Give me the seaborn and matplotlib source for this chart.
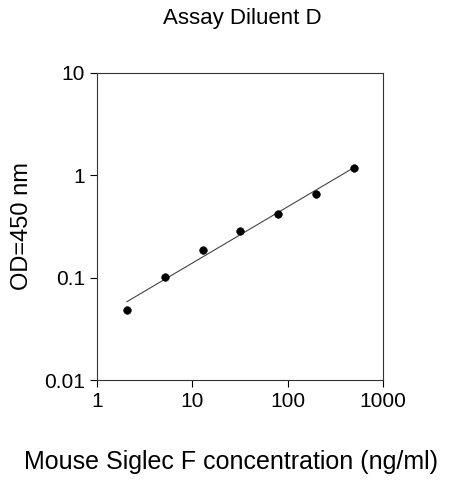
import numpy as np
import seaborn as sns
import matplotlib
matplotlib.use("Agg")
import matplotlib.pyplot as plt
from matplotlib.ticker import FixedLocator, NullLocator

conc = [2.05, 5.12, 12.8, 32, 80, 200, 500]
od = [0.0487, 0.102, 0.188, 0.286, 0.42, 0.662, 1.18]
x_ticks = [1, 10, 100, 1000]
x_labels = ["1", "10", "100", "1000"]
y_ticks = [0.01, 0.1, 1, 10]
y_labels = ["0.01", "0.1", "1", "10"]

sns.set_style("ticks")
plt.rcParams['font.family'] = ['Liberation Sans', 'DejaVu Sans']
plt.rcParams['text.color'] = 'black'
plt.rcParams['axes.labelcolor'] = 'black'

fig = plt.figure(figsize=(4.63, 4.80), dpi=100)
ax = fig.add_axes([0.2095, 0.2083, 0.6175, 0.6397])

# log-log fit line
b, a = np.polyfit(np.log10(conc), np.log10(od), 1)
xl = np.array([conc[0], conc[-1]])
ax.plot(xl, 10 ** (a + b * np.log10(xl)), color="#444444", lw=0.8)
sns.scatterplot(x=conc, y=od, ax=ax, color="black", s=30, edgecolor="black", zorder=3)

ax.set_xscale("log")
ax.set_yscale("log")
ax.set_xlim(1, 1000)
ax.set_ylim(0.01, 10)
ax.xaxis.set_major_locator(FixedLocator(x_ticks))
ax.yaxis.set_major_locator(FixedLocator(y_ticks))
ax.xaxis.set_minor_locator(NullLocator())
ax.yaxis.set_minor_locator(NullLocator())
ax.set_xticklabels(x_labels, fontsize=15)
ax.set_yticklabels(y_labels, fontsize=15)
ax.tick_params(direction="out", length=5, width=0.8, colors="black", labelcolor="black")
for s in ax.spines.values():
    s.set_linewidth(0.8)
    s.set_color("#333333")

fig.text(0.523, 0.962, "Assay Diluent D", fontsize=16, ha="center", va="center")
fig.text(0.5, 0.037, "Mouse Siglec F concentration (ng/ml)", fontsize=18, ha="center", va="center")
ax.set_ylabel("OD=450 nm", fontsize=17, labelpad=8)

fig.savefig("out.png", dpi=100)
